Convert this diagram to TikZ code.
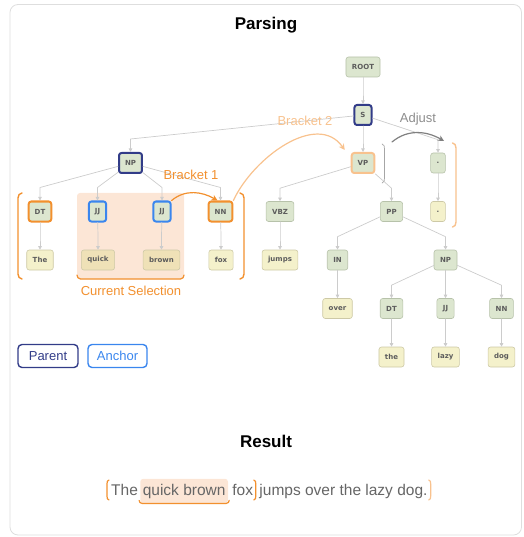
\documentclass[tikz,border=0pt]{standalone}
\usepackage{fontspec}
\setmainfont{Liberation Sans}
\newfontfamily\tagfont{DejaVu Sans}
\usepackage{xcolor}
\usepackage{tikz}
\usetikzlibrary{positioning,calc,arrows.meta}

\definecolor{tagfill}{HTML}{DCE6CF}
\definecolor{tagline}{HTML}{B7C2AA}
\definecolor{wordfill}{HTML}{F4F1CB}
\definecolor{wordline}{HTML}{CDC9A6}
\definecolor{selword}{HTML}{EFE1B7}
\definecolor{selfill}{HTML}{FCE6D6}
\definecolor{navy}{HTML}{323C88}
\definecolor{anchorblue}{HTML}{3A86EE}
\definecolor{brk}{HTML}{F2902E}
\definecolor{brklight}{HTML}{F8C28E}
\definecolor{edgegray}{HTML}{CCCCCC}
\definecolor{txtgray}{HTML}{666666}

\begin{document}
\begin{tikzpicture}[x=1pt,y=1pt, line cap=round, line join=round]
	\useasboundingbox (0,0) rectangle (523,-537);
	% ===== frame =====
	\draw[black!13, line width=0.8pt, rounded corners=8pt] (10,-4.5) rectangle (521.5,-535);
	
	% ===== styles =====
	\tikzset{
		tag/.style={draw=tagline, fill=tagfill, line width=0.6pt, rounded corners=2.5pt,
			minimum height=20pt, minimum width=14pt, inner xsep=6pt, inner ysep=0pt,
			text=txtgray!90!black, font=\tagfont\bfseries\fontsize{7}{8}\selectfont},
		word/.style={tag, draw=wordline, fill=wordfill},
		parent/.style={draw=navy, line width=2pt},
		anchorbox/.style={draw=anchorblue, line width=2pt},
		bracketbox/.style={draw=brk, line width=2pt},
		bracketsoft/.style={draw=brklight, line width=2pt},
		edge/.style={draw=edgegray, line width=0.7pt, -{Triangle[length=3.5pt,width=3.5pt]}},
		lbl/.style={font=\fontsize{13}{15}\selectfont}
	}
	
	% ===== titles =====
	\node[font=\bfseries\fontsize{17}{20}\selectfont] (title) at (266,-25) {Parsing};
	\node[font=\bfseries\fontsize{17}{20}\selectfont] (result) at (266,-441) {Result};
	
	% ===== current selection (behind) =====
	\fill[selfill, rounded corners=3pt] (77,-193) rectangle (184,-279);
	\draw[brk, line width=1.2pt] (77,-275) to[out=-90,in=180] (80.5,-279) -- (180.5,-279) to[out=0,in=-90] (184,-275);
	\node[lbl, text=brk] (curSel) at (131,-291) {Current Selection};
	
	% ===== tree nodes =====
	\node[tag] (root) at (363,-67) {ROOT};
	\node[tag, parent] (s) at (363,-115) {S};
	\node[tag, parent] (np) at (130.5,-163) {NP};
	\node[tag, bracketsoft] (vp) at (363,-163) {VP};
	\node[tag] (dotTag) at (438,-163) {.};
	
	\node[tag, bracketbox] (dt) at (40,-211.5) {DT};
	\node[tag, anchorbox] (jjA) at (97.5,-211.5) {JJ};
	\node[tag, anchorbox] (jjB) at (162,-211.5) {JJ};
	\node[tag, bracketbox] (nn) at (220.5,-211.5) {NN};
	\node[tag] (vbz) at (280,-211.5) {VBZ};
	\node[tag] (pp) at (391.5,-211.5) {PP};
	\node[word] (dotWord) at (438,-211.5) {.};
	
	\node[word] (wThe) at (40,-260) {The};
	\node[word, fill=selword] (wQuick) at (98,-260) {quick};
	\node[word, fill=selword] (wBrown) at (161.5,-260) {brown};
	\node[word] (wFox) at (221,-260) {fox};
	\node[word] (wJumps) at (280,-260) {jumps};
	\node[tag] (in) at (337.5,-260) {IN};
	\node[tag] (npB) at (445.5,-260) {NP};
	
	\node[word] (wOver) at (337.5,-308.5) {over};
	\node[tag] (dtB) at (391.5,-308.5) {DT};
	\node[tag] (jjC) at (445.5,-308.5) {JJ};
	\node[tag] (nnB) at (501.5,-308.5) {NN};
	
	\node[word] (wThe2) at (391.5,-357) {the};
	\node[word] (wLazy) at (445.5,-357) {lazy};
	\node[word] (wDog) at (501.5,-357) {dog};
	
	% ===== tree edges =====
	\foreach \p/\c in {root/s, s/np, s/vp, s/dotTag, np/dt, np/jjA, np/jjB, np/nn,
		vp/vbz, vp/pp, dotTag/dotWord, dt/wThe, jjA/wQuick, jjB/wBrown, nn/wFox,
		vbz/wJumps, pp/in, pp/npB, in/wOver, npB/dtB, npB/jjC, npB/nnB,
		dtB/wThe2, jjC/wLazy, nnB/wDog}{
		\draw[edge] (\p) -- ([yshift=13pt]\c.north) -- (\c);
	}
	
	% ===== brackets =====
	\draw[brk, line width=1.4pt] (22,-193) to[out=180,in=90] (18,-198) -- (18,-274) to[out=-90,in=180] (22,-279);
	\draw[brk, line width=1.4pt] (240,-193) to[out=0,in=90] (244,-198) -- (244,-274) to[out=-90,in=0] (240,-279);
	\draw[black!35, line width=0.7pt] (382,-144) to[out=0,in=90] (384.5,-149) -- (384.5,-178) to[out=-90,in=0] (382,-183);
	\draw[brklight, line width=1.4pt] (452.5,-143) to[out=0,in=90] (456,-148) -- (456,-222) to[out=-90,in=0] (452.5,-227);
	
	% ===== bracket arrows =====
	\draw[brk, line width=1.2pt, -{Stealth[length=6pt,width=6pt]}] (jjB.north east) to[out=40,in=150] ([xshift=-3pt]nn.north);
	\node[lbl, text=brk] (b1) at (191,-175) {Bracket 1};
	\draw[brklight, line width=1.2pt, -{Stealth[length=6pt,width=6pt]}] (nn.north east) to[out=65,in=125] ([xshift=-6pt,yshift=2pt]vp.north west);
	\node[lbl, text=brklight] (b2) at (305,-121) {Bracket 2};
	\coordinate (adjA) at (392,-142);
	\coordinate (adjB) at (444,-141);
	\draw[black!50, line width=1.2pt, -{Stealth[length=6pt,width=6pt]}] (adjA) to[out=40,in=150] (adjB);
	\node[lbl, text=black!45] (adj) at (418,-119) {Adjust};
	
	% ===== legend =====
	\node[lbl, draw=navy, text=navy, line width=1.4pt, rounded corners=4pt, minimum width=60pt, minimum height=23pt, inner sep=0pt] (legParent) at (48,-356) {Parent};
	\node[lbl, draw=anchorblue, text=anchorblue, line width=1.4pt, rounded corners=4pt, minimum width=59pt, minimum height=23pt, inner sep=0pt] (legAnchor) at (117.5,-356) {Anchor};
	
	% ===== result sentence =====
	\tikzset{rtext/.style={font=\fontsize{15.5}{18}\selectfont, text=txtgray, inner sep=0pt}}
	\node[rtext, anchor=base west] (rThe) at (111,-495) {The};
	\node[rtext, fill=selfill, rounded corners=3pt, inner xsep=2.5pt, inner ysep=5pt, base right=2pt of rThe] (rSel) {quick brown};
	\node[rtext, base right=4pt of rSel] (rFox) {fox};
	\node[rtext, base right=6pt of rFox] (rRest) {jumps over the lazy dog.};
	\draw[brk, line width=1.2pt] ([xshift=-1pt]rSel.south west) ++(0,3pt) to[out=-90,in=180] ++(3pt,-3pt) -- ([xshift=-2pt]rSel.south east) to[out=0,in=-90] ++(3pt,3pt);
	\draw[brk, line width=1.2pt] ([xshift=-2pt]rThe.west |- 0,-480) to[out=180,in=90] ++(-2pt,-4pt) -- ++(0,-12pt) to[out=-90,in=180] ++(2pt,-4pt);
	\draw[brk, line width=1.2pt] ([xshift=0.5pt]rFox.east |- 0,-480) to[out=0,in=90] ++(2pt,-4pt) -- ++(0,-12pt) to[out=-90,in=0] ++(-2pt,-4pt);
	\draw[brklight, line width=1.2pt] ([xshift=1pt]rRest.east |- 0,-480) to[out=0,in=90] ++(2pt,-4pt) -- ++(0,-12pt) to[out=-90,in=0] ++(-2pt,-4pt);
\end{tikzpicture}
\end{document}
